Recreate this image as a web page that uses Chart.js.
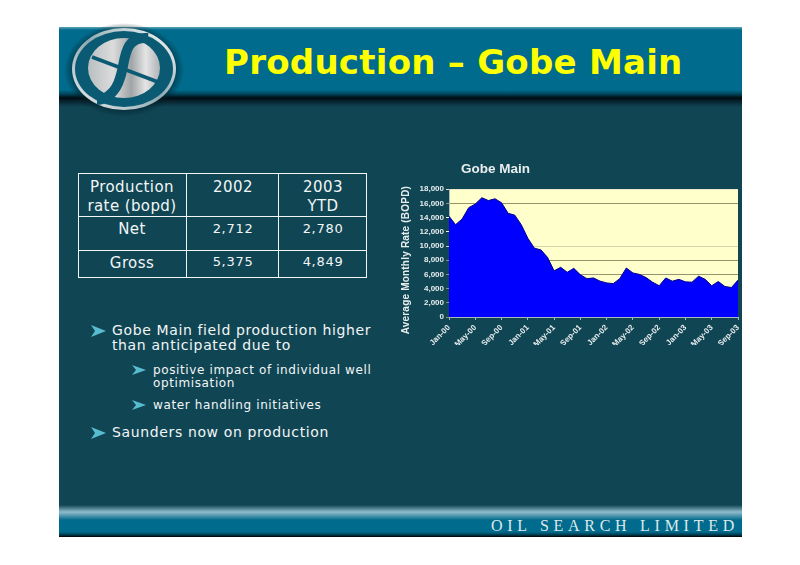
<!DOCTYPE html>
<html><head><meta charset="utf-8">
<script src="https://cdn.jsdelivr.net/npm/chart.js@4/dist/chart.umd.js"></script>
<style>
html,body{margin:0;padding:0;background:#fff;width:800px;height:565px;overflow:hidden}
#slide{position:absolute;left:59px;top:27px;width:683px;height:510px;background:#104554;overflow:hidden}
#head{position:absolute;left:0;top:0;width:683px;height:80px;background:linear-gradient(to bottom,#5fa5b8 0,#006b8c 3px,#006b8c 63px,#00465c 67px,#000a10 71px,#07222c 74px,#104554 80px)}
#foot{position:absolute;left:0;top:478px;width:683px;height:32px;background:linear-gradient(to bottom,#104554 0,#8fbccb 7px,#5d9db4 10px,#006b8c 15px,#006b8c 27px,#00384a 30px,#000 32px)}
.t{position:absolute;white-space:nowrap;color:#f2f6f6;font-family:"DejaVu Sans",sans-serif;line-height:1}
#title{left:224px;top:45px;font-size:34px;font-weight:bold;color:#ff0;letter-spacing:.25px}
#brand{left:491px;top:518px;font-family:"Liberation Serif",serif;font-size:16px;letter-spacing:4.72px;color:#dfe9ec}
.c{transform:translateX(-50%);text-align:center}
.b1{font-size:14px;letter-spacing:.63px}
.b2{font-size:12px;letter-spacing:.62px}
.tb{font-size:15px;letter-spacing:.4px}
.tn{font-size:13px;letter-spacing:.7px}
#tbl,#logo,#chev{position:absolute;left:0;top:0}
#cv{position:absolute;left:395px;top:155px}
</style></head><body>
<div id="slide"><div id="head"></div><div id="foot"></div></div>
<svg id="logo" width="800" height="565">
 <defs>
  <radialGradient id="sh" cx="50%" cy="50%" r="50%"><stop offset="80%" stop-color="#00222c" stop-opacity=".75"/><stop offset="100%" stop-color="#00222c" stop-opacity="0"/></radialGradient>
  <linearGradient id="ring" x1="0" y1="1" x2="1" y2="0"><stop offset="0" stop-color="#eee"/><stop offset=".5" stop-color="#8ea9b2"/><stop offset="1" stop-color="#fff"/></linearGradient>
  <linearGradient id="disc" x1="0" y1="0" x2="1" y2="0"><stop offset="0" stop-color="#b9bec0"/><stop offset=".35" stop-color="#dcdcdc"/><stop offset=".6" stop-color="#9fa4a6"/><stop offset=".8" stop-color="#e4e4e4"/><stop offset="1" stop-color="#aeb3b5"/></linearGradient>
 </defs>
 <ellipse cx="124" cy="70" rx="60" ry="47" fill="url(#sh)"/>
 <ellipse cx="124" cy="69" rx="52" ry="41" fill="url(#ring)"/>
 <ellipse cx="124" cy="69" rx="49" ry="38" fill="#0a5a74"/>
 <ellipse cx="124" cy="68" rx="36" ry="30" fill="url(#disc)"/>
 <path d="M92 57 L158 82" stroke="#0a5a74" stroke-width="3.5" fill="none"/>
 <path d="M148 38 C122 36 126 62 120 78 C116 92 106 100 97 100" stroke="#0a5a74" stroke-width="10" fill="none"/>
 <g fill="none" stroke="#f2f6f6">
  <rect x="78.5" y="173.5" width="288" height="104" stroke-width="1"/>
  <path d="M186.5 173V278M278.5 173V278M78 216.5H367M78 250.5H367" stroke-width="1"/>
 </g>
 <g fill="#58bcd0">
  <path d="M91 325l15 6-15 6 4-6z"/><path d="M91 427l15 6-15 6 4-6z"/>
  <path d="M132 365l14 5-14 5 4-5z"/><path d="M132 400l14 5-14 5 4-5z"/>
 </g>
</svg>
<div class="t" id="title">Production – Gobe Main</div>
<div class="t" id="brand">OIL SEARCH LIMITED</div>
<div class="t tb c" style="left:132px;top:180px">Production</div>
<div class="t tb c" style="left:132px;top:199px">rate (bopd)</div>
<div class="t tb c" style="left:233px;top:180px">2002</div>
<div class="t tb c" style="left:323px;top:180px">2003</div>
<div class="t tb c" style="left:323px;top:199px">YTD</div>
<div class="t tb c" style="left:132px;top:222px">Net</div>
<div class="t tb c" style="left:132px;top:256px">Gross</div>
<div class="t tn c" style="left:233px;top:222px">2,712</div>
<div class="t tn c" style="left:323px;top:222px">2,780</div>
<div class="t tn c" style="left:233px;top:255px">5,375</div>
<div class="t tn c" style="left:323px;top:255px">4,849</div>
<div class="t b1" style="left:112px;top:323px">Gobe Main field production higher</div>
<div class="t b1" style="left:112px;top:338px">than anticipated due to</div>
<div class="t b2" style="left:153px;top:364px">positive impact of individual well</div>
<div class="t b2" style="left:153px;top:377px">optimisation</div>
<div class="t b2" style="left:153px;top:399px">water handling initiatives</div>
<div class="t b1" style="left:112px;top:425px">Saunders now on production</div>
<canvas id="cv" width="350" height="190"></canvas>
<script>
const chartTitle = "Gobe Main";
const yAxisTitle = "Average Monthly Rate (BOPD)";
const years = ["00","01","02","03"];
const months = ["Jan","Feb","Mar","Apr","May","Jun","Jul","Aug","Sep","Oct","Nov","Dec"];
const categories = [];
years.forEach(y => months.forEach(m => categories.push(m + "-" + y)));
categories.length = 45;
const rates = [14200,13000,13800,15400,15900,16800,16400,16650,16100,14600,14350,13000,
               11100,9700,9450,8400,6500,7000,6300,6850,5950,5400,5500,5050,
               4800,4700,5400,6900,6200,6000,5550,4900,4400,5500,5050,5300,
               4950,4900,5750,5300,4400,5000,4300,4150,5200];
const gridColors = { 18000: "#e8e8c8", 16000: "#93936c", 14000: "#ffffcc", 12000: "#ffffcc", 10000: "#d6d6a8", 8000: "#93936c", 6000: "#93936c" };
const plotBg = {
  id: "plotBg",
  beforeDraw(c) {
    const a = c.chartArea;
    c.ctx.save();
    c.ctx.fillStyle = "#ffffcc";
    c.ctx.fillRect(a.left, a.top, a.right - a.left, a.bottom - a.top);
    c.ctx.restore();
  },
  afterLayout(c) {
    c.titleBlock.left = 66;
    c.titleBlock.right = 200;
  },
  afterDraw(c) {
    const a = c.chartArea, x = c.ctx;
    x.save();
    x.translate(a.left - 43, (a.top + a.bottom) / 2 + 7);
    x.rotate(-Math.PI / 2);
    x.font = "bold 10px 'Liberation Sans'";
    x.letterSpacing = "0.2px";
    x.fillStyle = "#e8eeee";
    x.textAlign = "center";
    x.textBaseline = "middle";
    x.fillText(yAxisTitle, 0, 0);
    x.restore();
  }
};
new Chart(document.getElementById("cv"), {
  type: "line",
  plugins: [plotBg],
  data: { labels: categories, datasets: [{
    label: "Gobe Main", data: rates, fill: "origin",
    backgroundColor: "#0000ff", borderColor: "#00008a", borderWidth: 1,
    pointRadius: 0, tension: 0
  }]},
  options: {
    responsive: false, animation: false, devicePixelRatio: 1,
    layout: { padding: { left: 4, right: 7, top: 0, bottom: 0 } },
    plugins: {
      legend: { display: false }, tooltip: { enabled: false },
      title: { display: true, text: chartTitle, align: "start", color: "#e8eeee",
        font: { family: "Liberation Sans", size: 13.5, weight: "bold" }, padding: { top: 6, bottom: 12 } }
    },
    scales: {
      x: {
        offset: false,
        afterFit: s => { s.height = 28; s.paddingRight = 0; s.paddingLeft = 0; },
        grid: { drawOnChartArea: false, drawTicks: true, tickLength: 3, color: "#a8b8bc" },
        border: { color: "#a8b8bc" },
        ticks: {
          autoSkip: false, minRotation: 45, maxRotation: 45, padding: 3, color: "#e8eeee",
          font: { family: "Liberation Sans", size: 8, weight: "bold" },
          callback(v, i) { return i % 4 === 0 ? this.getLabelForValue(v) : null; }
        }
      },
      y: {
        min: 0, max: 18000,
        afterFit: s => { s.width = 50; },
        grid: { color: c => gridColors[c.tick.value] || "#93936c", tickLength: 3 },
        border: { color: "#a8b8bc" },
        ticks: { stepSize: 2000, padding: 2, color: "#e8eeee",
          font: { family: "Liberation Sans", size: 8, weight: "bold" },
          callback: v => v.toLocaleString("en-US") }
      }
    }
  }
});
</script>
</body></html>
